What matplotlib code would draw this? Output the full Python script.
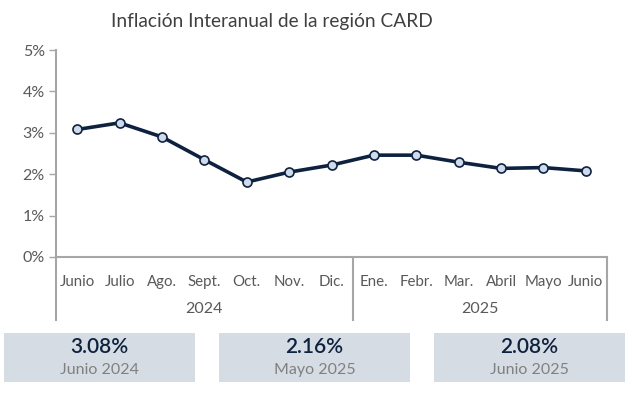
import matplotlib
matplotlib.use("Agg")
import matplotlib.pyplot as plt
from matplotlib.patches import Rectangle
from matplotlib.lines import Line2D
import matplotlib.transforms as mtransforms

plt.rcParams['font.family'] = ['Lato', 'DejaVu Sans']

# data
months = ["Junio", "Julio", "Ago.", "Sept.", "Oct.", "Nov.", "Dic.",
          "Ene.", "Febr.", "Mar.", "Abril", "Mayo", "Junio"]
years = ["2024", "2025"]
year_counts = [7, 6]
inflation = [3.08, 3.24, 2.90, 2.35, 1.81, 2.05, 2.22,
             2.46, 2.46, 2.29, 2.14, 2.16, 2.08]
box_values = ["3.08%", "2.16%", "2.08%"]
box_labels = ["Junio 2024", "Mayo 2025", "Junio 2025"]

W, H = 632, 397
navy = "#0e2240"
gray_axis = "#a6a6a6"
gray_text = "#595959"

fig = plt.figure(figsize=(W / 100, H / 100), dpi=100)
ax = fig.add_axes([56 / W, 1 - 257 / H, 551 / W, 207 / H])

x = list(range(len(months)))
ax.plot(x, inflation, color=navy, lw=2.6, marker="o", ms=6.5,
        mfc="#cfdaeb", mec=navy, mew=1.2, zorder=3)

ax.set_xlim(-0.5, len(months) - 0.5)
ax.set_ylim(0, 5)
ax.set_yticks([0, 1, 2, 3, 4, 5])
ax.set_yticklabels([f"{v}%" for v in range(6)], color=gray_text, fontsize=11.5)
ax.tick_params(axis="y", length=5, color=gray_axis, width=1, pad=3)
ax.set_xticks([])
for s in ["top", "right"]:
    ax.spines[s].set_visible(False)
for s in ["left", "bottom"]:
    ax.spines[s].set_color(gray_axis)
    ax.spines[s].set_linewidth(1.5)

trans = mtransforms.blended_transform_factory(ax.transData, ax.transAxes)
for i, m in enumerate(months):
    ax.text(i, -(282 - 257) / 207, m, transform=trans, ha="center", va="center",
            fontsize=10.8, color=gray_text)

# group separators and year labels
bottom_y = -(320 - 257) / 207
start = -0.5
edges = [start]
for c in year_counts:
    edges.append(edges[-1] + c)
for e in edges:
    ax.add_line(Line2D([e, e], [0, bottom_y], transform=trans, color=gray_axis,
                       lw=1.5, clip_on=False))
for k, yr in enumerate(years):
    mid = (edges[k] + edges[k + 1]) / 2
    ax.text(mid, -(309 - 257) / 207, yr, transform=trans, ha="center", va="center",
            fontsize=11.5, color=gray_text)

fig.text(272 / W, 1 - 22 / H, "Inflación Interanual de la región CARD",
         ha="center", va="center", fontsize=13.8, color="#404040")

# summary boxes
boxes = [(4, 195), (219, 410), (434, 625)]
for (x0, x1), val, lab in zip(boxes, box_values, box_labels):
    fig.patches.append(Rectangle((x0 / W, 1 - 382 / H), (x1 - x0) / W, 49 / H,
                                 transform=fig.transFigure, facecolor="#d6dce4",
                                 edgecolor="none"))
    cx = (x0 + x1) / 2 / W
    fig.text(cx, 1 - 347 / H, val, ha="center", va="center", fontsize=15,
             fontweight="semibold", color=navy)
    fig.text(cx, 1 - 370 / H, lab, ha="center", va="center", fontsize=11.5,
             color="#808080")

fig.savefig("out.png", dpi=100)
